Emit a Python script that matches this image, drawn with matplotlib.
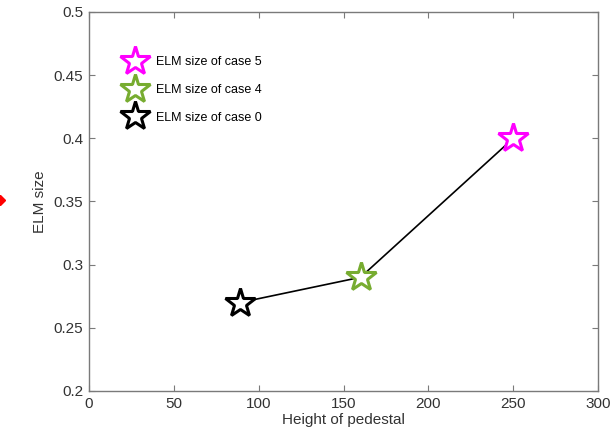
import matplotlib.pyplot as plt
from matplotlib.lines import Line2D

plt.rcParams['font.family'] = ['Liberation Sans', 'DejaVu Sans']

# pedestal height vs ELM size for the three cases
heights = [89, 160, 250]
elm_sizes = [0.27, 0.29, 0.40]
case_labels = ['ELM size of case 0', 'ELM size of case 4', 'ELM size of case 5']
case_colors = ['black', '#77ac30', '#ff00ff']

fig = plt.figure(figsize=(6.16, 4.43), dpi=100)
ax = fig.add_axes([0.1445, 0.1174, 0.8265, 0.8556])

ax.plot(heights, elm_sizes, color='black', linewidth=1.2, zorder=1)
handles = []
for x, y, c, lab in zip(heights, elm_sizes, case_colors, case_labels):
    h, = ax.plot(x, y, linestyle='none', marker='*', markersize=22,
                 markerfacecolor='white', markeredgecolor=c, markeredgewidth=2.2,
                 label=lab, zorder=3)
    handles.append(h)

ax.set_xlim(0, 300)
ax.set_ylim(0.2, 0.5)
ax.set_xticks([0, 50, 100, 150, 200, 250, 300])
ax.set_yticks([0.2, 0.25, 0.3, 0.35, 0.4, 0.45, 0.5])
ax.set_yticklabels(['0.2', '0.25', '0.3', '0.35', '0.4', '0.45', '0.5'])
ax.tick_params(direction='in', length=4, width=0.8, color='#7a7a7a',
               labelcolor='#333333', labelsize=11, top=True, right=True, pad=4)
for s in ax.spines.values():
    s.set_color('#7a7a7a')
    s.set_linewidth(1.0)

ax.set_xlabel('Height of pedestal', fontsize=11, color='#333333', labelpad=2)
ax.set_ylabel('ELM size', fontsize=11, color='#333333', labelpad=5)

ax.legend(handles=handles[::-1], loc='upper left', bbox_to_anchor=(0.071, 0.883),
          frameon=False, fontsize=9, handlelength=1.5, handletextpad=1.0,
          labelspacing=1.25, borderaxespad=0, borderpad=0)

# small red arrow tip at the left edge
fig.add_artist(Line2D([0.0], [1 - 200 / 443], marker='D', markersize=5,
                      color='red', transform=fig.transFigure, clip_on=False))

fig.savefig('out.png', dpi=100)
